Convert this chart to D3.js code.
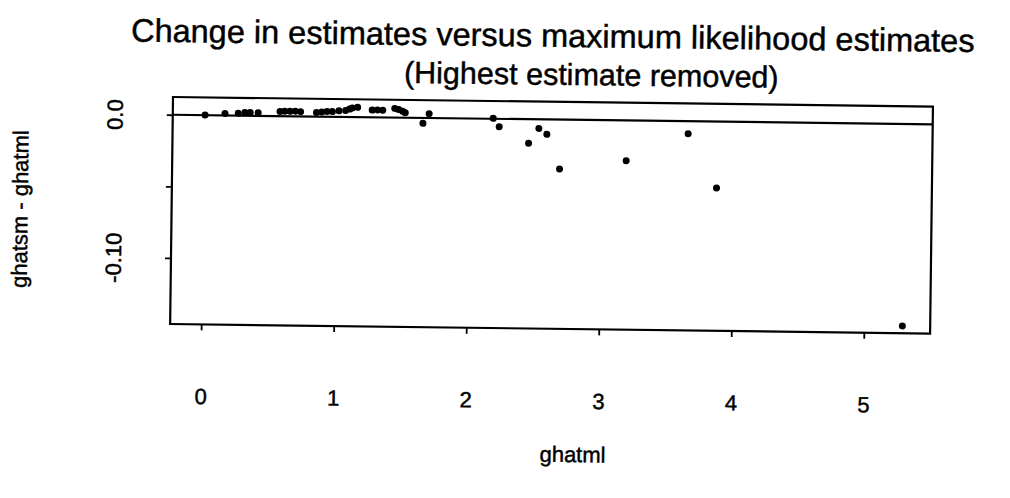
<!DOCTYPE html>
<html>
<head>
<meta charset="utf-8">
<script src="https://cdn.jsdelivr.net/npm/d3@7"></script>
<style>
  html, body { margin: 0; padding: 0; background: #fff; }
  svg { display: block; font-family: "Liberation Sans", Arial, Helvetica, sans-serif; }
  svg text { fill: #000; stroke: #000; stroke-width: 0.45px; }
</style>
</head>
<body>
<div id="chart"></div>
<script>
// ghatml values (x) and ghatsm - ghatml (y)
var ghatml = [0.01, 0.16, 0.26, 0.31, 0.35, 0.41, 0.575, 0.61, 0.65, 0.69, 0.73,
  0.85, 0.89, 0.93, 0.97, 1.02, 1.07, 1.10, 1.12, 1.16, 1.27, 1.31, 1.35,
  1.44, 1.47, 1.50, 1.52, 1.654, 1.70, 2.184, 2.230, 2.453, 2.529, 2.590,
  2.689, 3.191, 3.656, 3.875, 5.29];
var change = [0.0001, 0.0014, 0.0017, 0.0022, 0.0022, 0.0022, 0.0032, 0.0034, 0.0034, 0.0036, 0.0033,
  0.0028, 0.0032, 0.0036, 0.0036, 0.0042, 0.0045, 0.0055, 0.0063, 0.0068, 0.0050, 0.0052, 0.0050,
  0.0064, 0.0056, 0.0044, 0.0034, -0.0038, 0.0029, 0.0003, -0.0055, -0.0168, -0.0063, -0.0104,
  -0.0345, -0.0281, -0.0087, -0.0464, -0.141];

var xTicks = [0, 1, 2, 3, 4, 5],
  xTickLabels = ['0', '1', '2', '3', '4', '5'];
var yTicks = [0, -0.05, -0.10],
  yTickLabels = ['0.0', '', '-0.10'];

var titleLines = ['Change in estimates versus maximum likelihood estimates',
  '(Highest estimate removed)'];

var width = 1010,
  height = 498;

// plot box (before the small scan tilt is applied)
var boxLeft = 173, boxTop = 97,
  boxW = 760, boxH = 227;

var svg = d3.select('#chart').append('svg')
  .attr('width', width)
  .attr('height', height);

// the scanned page is tilted slightly clockwise
var page = svg.append('g')
  .attr('transform', 'rotate(0.72,' + boxLeft + ',' + boxTop + ')');

var x = d3.scaleLinear().domain([-0.234, 5.50]).range([0, boxW]);
var y = d3.scaleLinear().domain([0.0124, -0.1461]).range([0, boxH]);

var plot = page.append('g').attr('transform', 'translate(' + boxLeft + ',' + boxTop + ')');

// x axis
var xAxis = plot.append('g')
  .attr('transform', 'translate(0,' + boxH + ')')
  .call(d3.axisBottom(x)
    .tickValues(xTicks)
    .tickSize(6)
    .tickSizeOuter(0)
    .tickPadding(58)
    .tickFormat(function(d, i) { return xTickLabels[i]; }));

// y axis
var yAxis = plot.append('g')
  .call(d3.axisLeft(y)
    .tickValues(yTicks)
    .tickSize(6)
    .tickSizeOuter(0)
    .tickFormat(function(d, i) { return yTickLabels[i]; }));

yAxis.selectAll('.tick text')
  .attr('x', null)
  .attr('dy', null)
  .attr('text-anchor', 'middle')
  .attr('transform', 'translate(-50,0) rotate(-90)');

[xAxis, yAxis].forEach(function(ax) {
  ax.select('.domain').remove();
  ax.selectAll('.tick line').attr('stroke', '#000').attr('stroke-width', 1.8);
  ax.selectAll('.tick text')
    .style('font-size', '22px')
    .style('font-family', '"Liberation Sans", Arial, Helvetica, sans-serif');
});

// box
plot.append('rect')
  .attr('x', 0)
  .attr('y', 0)
  .attr('width', boxW)
  .attr('height', boxH)
  .attr('fill', 'none')
  .attr('stroke', '#000')
  .attr('stroke-width', 2.2);

// reference line at zero
plot.append('line')
  .attr('x1', 0)
  .attr('x2', boxW)
  .attr('y1', y(0))
  .attr('y2', y(0))
  .attr('stroke', '#000')
  .attr('stroke-width', 2.2);

// points
plot.selectAll('circle.pt')
  .data(ghatml)
  .enter().append('circle')
  .attr('class', 'pt')
  .attr('cx', function(d) { return x(d); })
  .attr('cy', function(d, i) { return y(change[i]); })
  .attr('r', 3.5)
  .attr('fill', '#000');

// titles
page.selectAll('text.title')
  .data(titleLines)
  .enter().append('text')
  .attr('class', 'title')
  .attr('x', function(d, i) { return i === 0 ? 552 : 591; })
  .attr('y', function(d, i) { return i === 0 ? 42 : 80; })
  .attr('text-anchor', 'middle')
  .style('font-size', function(d, i) { return i === 0 ? '32.5px' : '30.5px'; })
  .text(function(d) { return d; });

// axis titles
page.append('text')
  .attr('x', 577)
  .attr('y', 457)
  .attr('text-anchor', 'middle')
  .style('font-size', '22px')
  .text('ghatml');

page.append('text')
  .attr('transform', 'translate(29,211) rotate(-90)')
  .attr('text-anchor', 'middle')
  .style('font-size', '22px')
  .text('ghatsm - ghatml');
</script>
</body>
</html>
